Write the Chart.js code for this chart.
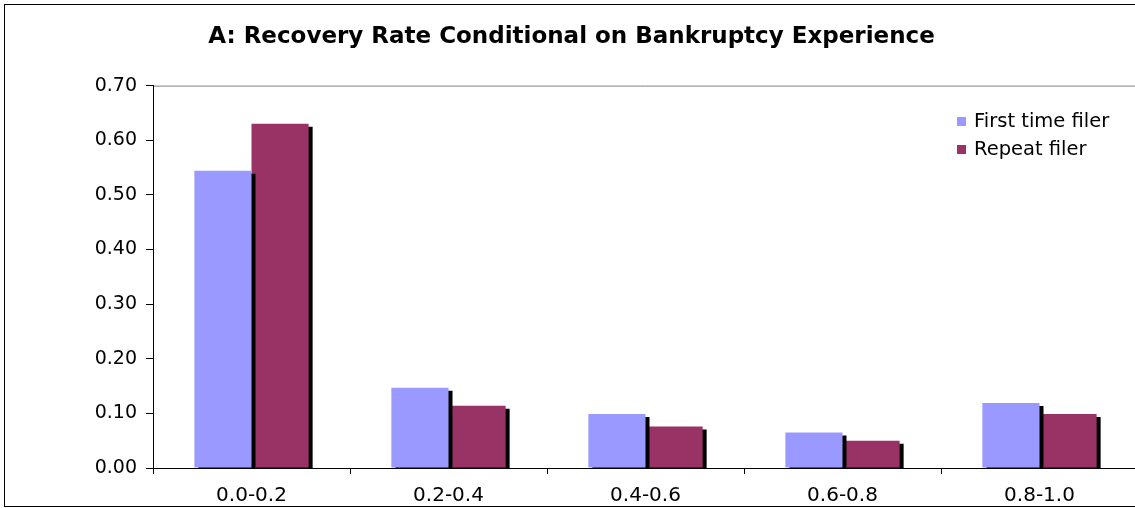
<!DOCTYPE html>
<html>
<head>
<meta charset="utf-8">
<script src="https://cdn.jsdelivr.net/npm/chart.js@4.4.1/dist/chart.umd.min.js"></script>
<style>
	html, body { margin: 0; padding: 0; background: #fff; overflow: hidden; }
	#frame {
		position: absolute; left: 4px; top: 4px;
		width: 1135px; height: 501px;
		border: 1px solid #000;
		border-right: none;
	}
	#chart { display: block; }
</style>
</head>
<body>
<div id="frame"><canvas id="chart" width="1135" height="501"></canvas></div>
<script>
const titleText = 'A: Recovery Rate Conditional on Bankruptcy Experience';
const categories = ['0.0-0.2', '0.2-0.4', '0.4-0.6', '0.6-0.8', '0.8-1.0'];
const firstTimeFiler = [0.544, 0.147, 0.099, 0.065, 0.119];
const repeatFiler = [0.630, 0.114, 0.076, 0.050, 0.099];
const seriesNames = ['First time filer', 'Repeat filer'];
const seriesColors = ['#9999FF', '#993366'];

const FONT = '"DejaVu Sans", Verdana, sans-serif';

// gray top edge of the plot area (drawn before the shadow kicks in)
const plotFrame = {
	id: 'plotFrame',
	beforeDraw(chart) {
		let a = chart.chartArea;
		let ctx = chart.ctx;
		ctx.save();
		ctx.strokeStyle = '#808080';
		ctx.lineWidth = 1;
		ctx.beginPath();
		ctx.moveTo(a.left, a.top + 0.5);
		ctx.lineTo(a.right, a.top + 0.5);
		ctx.stroke();
		ctx.restore();
	}
};

// black drop shadow under the bars, like the old excel look
const barShadow = {
	id: 'barShadow',
	beforeDatasetsDraw(chart) {
		let ctx = chart.ctx;
		ctx.save();
		ctx.shadowColor = '#000';
		ctx.shadowOffsetX = 4;
		ctx.shadowOffsetY = 3;
		ctx.shadowBlur = 0;
	},
	afterDatasetsDraw(chart) {
		chart.ctx.restore();
	}
};

// legend sitting inside the plot, top right
const insideLegend = {
	id: 'insideLegend',
	afterDraw(chart) {
		let ctx = chart.ctx;
		ctx.save();
		ctx.font = '19.5px ' + FONT;
		ctx.textBaseline = 'middle';
		chart.data.datasets.forEach(function(ds, i) {
			let y = 116 + i * 28;
			ctx.fillStyle = ds.backgroundColor;
			ctx.fillRect(952, y - 4, 9, 9);
			ctx.fillStyle = '#000';
			ctx.fillText(ds.label, 969, y + 1);
		});
		ctx.restore();
	}
};

const ctx = document.getElementById('chart').getContext('2d');
new Chart(ctx, {
	type: 'bar',
	data: {
		labels: categories,
		datasets: [
			{ label: seriesNames[0], data: firstTimeFiler, backgroundColor: seriesColors[0] },
			{ label: seriesNames[1], data: repeatFiler, backgroundColor: seriesColors[1] }
		]
	},
	options: {
		responsive: false,
		animation: false,
		layout: { padding: { left: 0, right: 2, top: 0, bottom: 0 } },
		datasets: {
			bar: { categoryPercentage: 0.58, barPercentage: 1.0 }
		},
		plugins: {
			legend: { display: false },
			tooltip: { enabled: false },
			title: {
				display: true,
				text: titleText,
				color: '#000',
				font: { family: FONT, size: 23, weight: 'bold' },
				padding: { top: 18, bottom: 35 }
			}
		},
		scales: {
			x: {
				afterFit(scale) { scale.height = 38; },
				grid: {
					offset: true,
					drawOnChartArea: false,
					tickLength: 6,
					color: '#000'
				},
				border: { display: true, color: '#000', width: 1 },
				ticks: {
					color: '#000',
					padding: 10,
					font: { family: FONT, size: 20 }
				}
			},
			y: {
				min: 0,
				max: 0.7,
				afterFit(scale) { scale.width = 148; },
				grid: {
					drawOnChartArea: false,
					tickLength: 7,
					color: '#000'
				},
				border: { display: true, color: '#000', width: 1 },
				ticks: {
					stepSize: 0.1,
					color: '#000',
					padding: 9,
					font: { family: FONT, size: 19 },
					callback: function(v) { return v.toFixed(2); }
				}
			}
		}
	},
	plugins: [plotFrame, barShadow, insideLegend]
});
</script>
</body>
</html>
